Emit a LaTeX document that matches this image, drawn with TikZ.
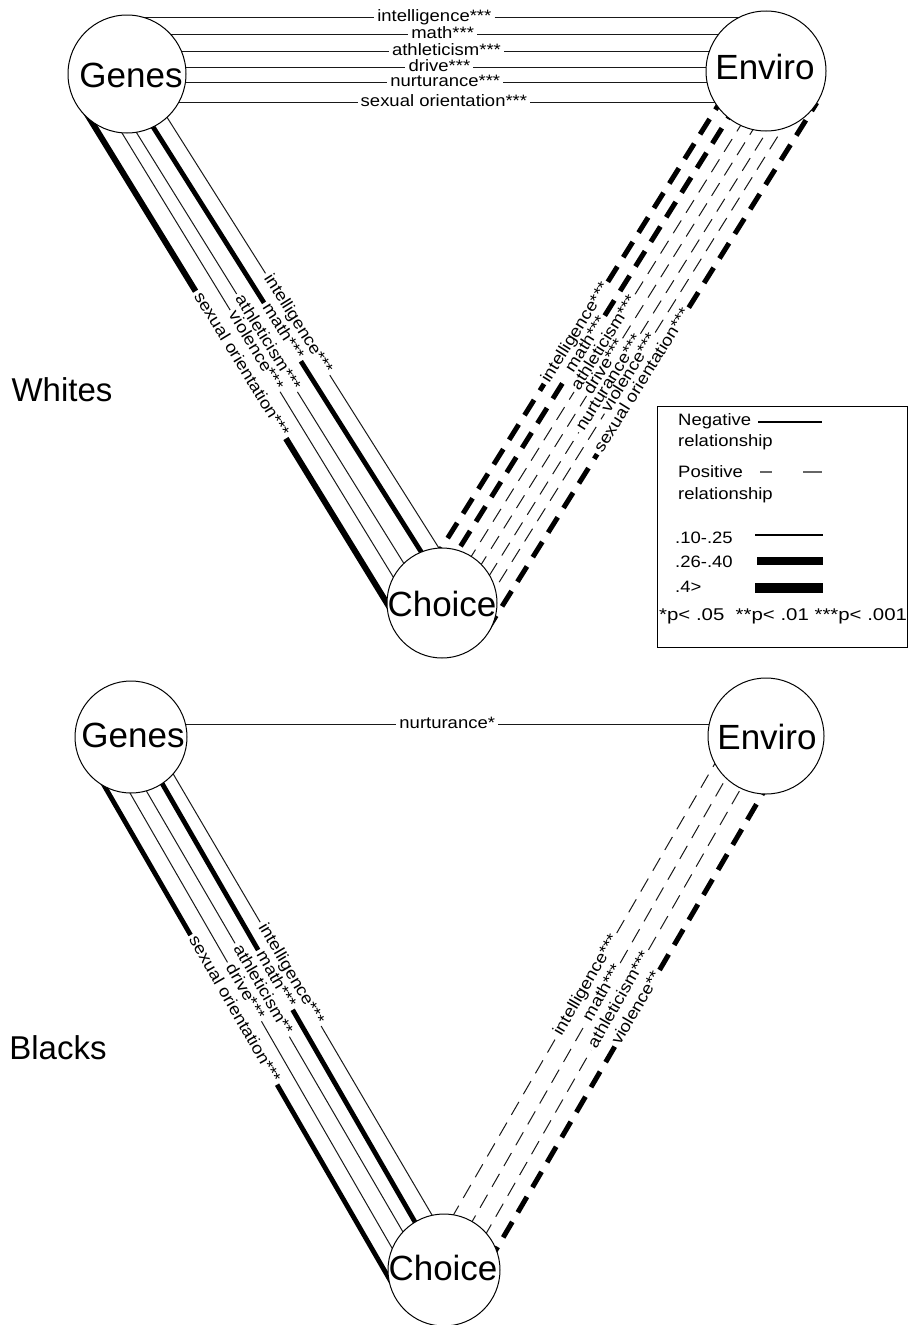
\documentclass[tikz,border=0pt]{standalone}
\usepackage{fontspec}
\usepackage{graphicx}
\setmainfont{Liberation Sans}
\usetikzlibrary{calc}
\pgfdeclarelayer{bg}
\pgfsetlayers{bg,main}
\newcommand\wider[1]{\scalebox{1.12}[1]{#1}}
\tikzset{
  circ/.style={circle, draw, line width=1pt, fill=white, inner sep=0pt},
  big/.style={font=\fontsize{35}{40}\selectfont, inner sep=0pt},
  grouplab/.style={font=\fontsize{33}{38}\selectfont, inner sep=0pt},
  lab/.style={font=\fontsize{16.5}{18}\selectfont, inner xsep=3pt, inner ysep=0pt, text height=11.9pt, text depth=3.5pt},
  legt/.style={font=\fontsize{16.5}{18}\selectfont, inner sep=0pt},
  negline/.style={line width=1pt, black!90},
  negthickline/.style={line width=4.8pt},
  negthickerline/.style={line width=6pt},
  posline/.style={line width=1pt, black!90, dash pattern=on 15pt off 9pt},
  posthickline/.style={line width=5pt, dash pattern=on 18pt off 11pt},
}
% #1 name, #2 P, #3 Q, #4 circle at P side, #5 circle at Q side, #6 label position (fraction P->Q), #7 style, #8 text
\newcommand\relline[8]{%
  \coordinate (#1p) at #2;
  \coordinate (#1q) at #3;
  \coordinate (#1a) at ($(#1p)!(#4.center)!(#1q)$);
  \coordinate (#1b) at ($(#1p)!(#5.center)!(#1q)$);
  \path let \p1=($(#1q)-(#1p)$), \n1={atan2(\y1,\x1)} in
    node[lab, rotate=\n1] (#1) at ($(#1p)!#6!(#1q)$) {\wider{#8}};
  \draw[#7] (#1a) -- (#1);
  \draw[#7] (#1) -- (#1b);
}
\begin{document}
\begin{tikzpicture}[x=1pt,y=-1pt]
\useasboundingbox (0,0) rectangle (909,1325);

% ---------- circles (Whites) ----------
\node[circ, minimum size=118pt] (WG) at (127,74) {};
\node[circ, minimum size=120pt] (WE) at (766,71) {};
\node[circ, minimum size=110pt] (WC) at (442,603) {};
\node[big] (WGt) at (131,75) {Genes};
\node[big] (WEt) at (765,67) {Enviro};
\node[big] (WCt) at (442,604) {Choice};

% ---------- circles (Blacks) ----------
\node[circ, minimum size=112pt] (BG) at (131,737) {};
\node[circ, minimum size=116pt] (BE) at (766,736) {};
\node[circ, minimum size=112pt] (BC) at (444,1270) {};
\node[big] (BGt) at (133,735) {Genes};
\node[big] (BEt) at (767,737) {Enviro};
\node[big] (BCt) at (443,1268) {Choice};

\node[grouplab] (whites) at (62,390) {Whites};
\node[grouplab] (blacks) at (58,1048) {Blacks};

\begin{pgfonlayer}{bg}
\fill[white] (0,0) rectangle (909,1325);
% Whites: Genes - Enviro
\relline{wt1}{(127,17)}{(766,17)}{WG}{WE}{0.481}{negline}{intelligence***}
\relline{wt2}{(127,34)}{(766,34)}{WG}{WE}{0.494}{negline}{math***}
\relline{wt3}{(127,51)}{(766,51)}{WG}{WE}{0.500}{negline}{athleticism***}
\relline{wt4}{(127,67)}{(766,67)}{WG}{WE}{0.489}{negline}{drive***}
\relline{wt5}{(127,82)}{(766,82)}{WG}{WE}{0.498}{negline}{nurturance***}
\relline{wt6}{(127,102)}{(766,102)}{WG}{WE}{0.496}{negline}{sexual orientation***}
% Whites: Genes - Choice
\relline{wl1}{(170,122)}{(437,545)}{WG}{WC}{0.478}{negline}{intelligence***}
\relline{wl2}{(155,130)}{(420,550)}{WG}{WC}{0.481}{negthickline}{math***}
\relline{wl3}{(138,135)}{(403,562)}{WG}{WC}{0.487}{negline}{athleticism***}
\relline{wl4}{(122,133)}{(392,575)}{WG}{WC}{0.493}{negline}{violence***}
\relline{wl5}{(93,124)}{(385,600)}{WG}{WC}{0.506}{negthickerline}{sexual orientation***}
% Whites: Choice - Enviro
\relline{wr1}{(471.5,500)}{(659,200)}{WC}{WE}{0.557}{posthickline}{intelligence***}
\relline{wr2}{(489.5,500)}{(677,200)}{WC}{WE}{0.517}{posthickline}{math***}
\relline{wr3}{(506.5,500)}{(694,200)}{WC}{WE}{0.523}{posline}{athleticism***}
\relline{wr4}{(521.5,500)}{(709,200)}{WC}{WE}{0.443}{posline}{drive***}
\relline{wr5}{(536.5,500)}{(724,200)}{WC}{WE}{0.390}{posline}{nurturance***}
\relline{wr6}{(550.5,500)}{(738,200)}{WC}{WE}{0.423}{posline}{violence***}
\relline{wr7}{(568.5,500)}{(756,200)}{WC}{WE}{0.397}{posthickline}{sexual orientation***}
% Blacks: Genes - Enviro
\relline{bt1}{(131,724)}{(766,724)}{BG}{BE}{0.498}{negline}{nurturance*}
% Blacks: Genes - Choice
\relline{bl1}{(175,777)}{(432,1215)}{BG}{BC}{0.450}{negline}{intelligence***}
\relline{bl2}{(163,785)}{(415,1222)}{BG}{BC}{0.446}{negthickline}{math***}
\relline{bl3}{(147,792)}{(403,1232)}{BG}{BC}{0.450}{negline}{athleticism**}
\relline{bl4}{(130,793)}{(392,1248)}{BG}{BC}{0.437}{negline}{drive***}
\relline{bl5}{(105,787)}{(390,1280)}{BG}{BC}{0.452}{negthickline}{sexual orientation***}
% Blacks: Choice - Enviro
\relline{br1}{(458,1207)}{(710,772)}{BC}{BE}{0.510}{posline}{intelligence***}
\relline{br2}{(473,1220)}{(725,780)}{BC}{BE}{0.516}{posline}{math***}
\relline{br3}{(487,1232)}{(740,790)}{BC}{BE}{0.525}{posline}{athleticism***}
\relline{br4}{(497,1248)}{(763,793)}{BC}{BE}{0.527}{posthickline}{violence**}
\end{pgfonlayer}

% ---------- legend ----------
\node[draw, line width=1pt, minimum width=250pt, minimum height=241pt, inner sep=0pt, anchor=north west] (leg) at (657,406) {};
\node[legt, anchor=base west] (lneg) at (678,425) {\wider{Negative}};
\node[legt, anchor=base west] (lrel1) at (678,446) {\wider{relationship}};
\node[legt, anchor=base west] (lpos) at (678,477) {\wider{Positive}};
\node[legt, anchor=base west] (lrel2) at (678,499) {\wider{relationship}};
\node[legt, anchor=base west] (lw1) at (675,543) {\wider{.10-.25}};
\node[legt, anchor=base west] (lw2) at (675,567) {\wider{.26-.40}};
\node[legt, anchor=base west] (lw3) at (675,592) {\wider{.4>}};
\node[legt, font=\fontsize{17}{20}\selectfont, anchor=base west] (lp) at (659,620) {\scalebox{1.2}[1]{*p< .05\ \ **p< .01 ***p< .001}};
\coordinate (ln1) at (758,422); \coordinate (ln2) at (822,422);
\draw[line width=1.2pt] (ln1) -- (ln2);
\coordinate (lp1) at (760,472); \coordinate (lp2) at (822,472);
\draw[line width=1.2pt, black!60, dash pattern=on 12pt off 31pt on 19pt off 5pt] (lp1) -- (lp2);
\coordinate (la1) at (755,535); \coordinate (la2) at (823,535);
\draw[line width=1.5pt] (la1) -- (la2);
\coordinate (lb1) at (757,561); \coordinate (lb2) at (823,561);
\draw[line width=8pt] (lb1) -- (lb2);
\coordinate (lc1) at (755,588); \coordinate (lc2) at (823,588);
\draw[line width=10pt] (lc1) -- (lc2);
\end{tikzpicture}
\end{document}
